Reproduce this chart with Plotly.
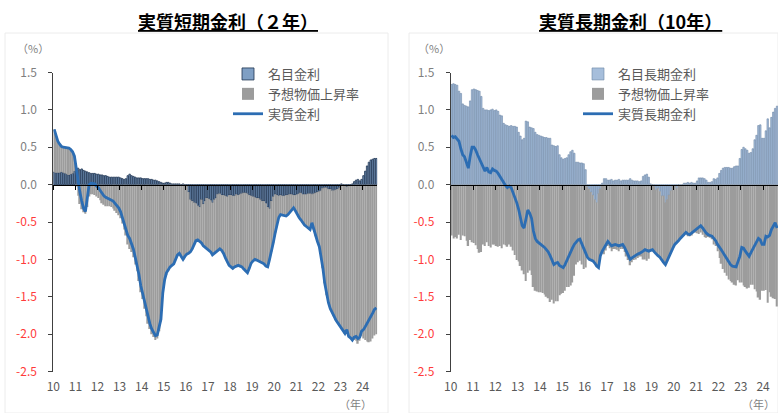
import pandas as pd
import plotly.graph_objects as go

# ---------------- data (monthly, Jan 2010 - Aug 2024, %) ----------------
# 2-year: nominal yield, expected inflation, real yield
short_nominal = [
    0.17, 0.16, 0.16, 0.16, 0.17, 0.16, 0.15, 0.14, 0.13, 0.14, 0.15, 0.18,
    0.22, 0.22, 0.20, 0.21, 0.19, 0.18, 0.17, 0.16, 0.15, 0.15, 0.15, 0.14,
    0.14, 0.13, 0.13, 0.12, 0.12, 0.11, 0.10, 0.10, 0.10, 0.10, 0.10, 0.10,
    0.09, 0.08, 0.07, 0.08, 0.12, 0.14, 0.12, 0.11, 0.10, 0.09, 0.09, 0.09,
    0.08, 0.08, 0.08, 0.08, 0.07, 0.07, 0.06, 0.06, 0.05, 0.04, 0.03, 0.02,
    0.02, 0.03, 0.03, 0.02, 0.01, 0.01, 0.01, 0.01, 0.01, 0.00, 0.01, 0.00,
    -0.02, -0.10, -0.20, -0.22, -0.24, -0.25, -0.28, -0.30, -0.20, -0.26, -0.22, -0.18,
    -0.19, -0.21, -0.24, -0.20, -0.18, -0.13, -0.12, -0.14, -0.14, -0.15, -0.16, -0.14,
    -0.14, -0.15, -0.15, -0.13, -0.14, -0.13, -0.12, -0.11, -0.11, -0.12, -0.14, -0.15,
    -0.16, -0.17, -0.18, -0.18, -0.20, -0.22, -0.22, -0.25, -0.30, -0.32, -0.22, -0.16,
    -0.13, -0.14, -0.15, -0.14, -0.15, -0.15, -0.14, -0.14, -0.13, -0.13, -0.14, -0.14,
    -0.13, -0.12, -0.11, -0.13, -0.13, -0.13, -0.12, -0.12, -0.13, -0.12, -0.11, -0.10,
    -0.09, -0.08, -0.05, -0.04, -0.04, -0.06, -0.06, -0.08, -0.08, -0.07, -0.06, -0.04,
    0.01, 0.00, -0.02, -0.03, -0.02, -0.01, 0.01, 0.04, 0.06, 0.07, 0.05, 0.07,
    0.12, 0.18, 0.25, 0.30, 0.33, 0.34, 0.35, 0.35,
]
short_expected = [
    -0.57, -0.50, -0.42, -0.38, -0.34, -0.34, -0.35, -0.36, -0.36, -0.33, -0.29, -0.20,
    0.02, 0.15, 0.26, 0.33, 0.37, 0.39, 0.30, 0.16, 0.13, 0.13, 0.14, 0.16,
    0.18, 0.21, 0.25, 0.27, 0.29, 0.29, 0.29, 0.30, 0.32, 0.35, 0.38, 0.41,
    0.45, 0.52, 0.60, 0.68, 0.80, 0.86, 0.90, 0.97, 1.07, 1.16, 1.29, 1.44,
    1.53, 1.66, 1.76, 1.86, 1.93, 2.00, 2.04, 2.08, 2.06, 1.96, 1.83, 1.47,
    1.29, 1.21, 1.16, 1.12, 1.09, 1.07, 1.01, 0.95, 0.93, 0.97, 1.01, 0.96,
    0.91, 0.82, 0.70, 0.64, 0.56, 0.50, 0.46, 0.46, 0.58, 0.56, 0.62, 0.68,
    0.68, 0.69, 0.70, 0.72, 0.72, 0.74, 0.74, 0.74, 0.78, 0.83, 0.88, 0.94,
    0.96, 0.97, 0.95, 0.96, 0.94, 0.96, 0.98, 1.02, 1.05, 1.06, 0.98, 0.90,
    0.86, 0.83, 0.83, 0.84, 0.83, 0.82, 0.84, 0.84, 0.80, 0.68, 0.68, 0.62,
    0.52, 0.38, 0.29, 0.26, 0.26, 0.27, 0.28, 0.26, 0.24, 0.21, 0.17, 0.21,
    0.27, 0.32, 0.36, 0.38, 0.41, 0.43, 0.46, 0.48, 0.38, 0.48, 0.58, 0.66,
    0.74, 0.88, 1.07, 1.28, 1.44, 1.52, 1.60, 1.64, 1.68, 1.74, 1.79, 1.84,
    1.93, 1.96, 1.97, 1.91, 2.01, 2.04, 2.09, 2.08, 2.09, 2.13, 2.09, 2.03,
    2.06, 2.08, 2.10, 2.11, 2.10, 2.06, 2.02, 2.00,
]
short_real = [
    0.74, 0.66, 0.58, 0.54, 0.51, 0.50, 0.50, 0.50, 0.49, 0.47, 0.44, 0.38,
    0.20, 0.05, -0.10, -0.22, -0.32, -0.36, -0.15, 0.00, 0.02, 0.02, 0.01, -0.02,
    -0.04, -0.08, -0.12, -0.15, -0.17, -0.18, -0.19, -0.20, -0.22, -0.25, -0.28, -0.31,
    -0.36, -0.44, -0.53, -0.60, -0.68, -0.72, -0.78, -0.86, -0.97, -1.07, -1.20, -1.35,
    -1.45, -1.58, -1.68, -1.78, -1.86, -1.93, -1.98, -2.02, -2.01, -1.92, -1.80, -1.45,
    -1.27, -1.18, -1.13, -1.10, -1.08, -1.06, -1.00, -0.94, -0.92, -0.97, -1.00, -0.96,
    -0.93, -0.92, -0.90, -0.86, -0.80, -0.75, -0.74, -0.76, -0.78, -0.82, -0.84, -0.86,
    -0.87, -0.90, -0.94, -0.92, -0.90, -0.87, -0.86, -0.88, -0.92, -0.98, -1.04, -1.08,
    -1.10, -1.12, -1.10, -1.09, -1.08, -1.09, -1.10, -1.13, -1.16, -1.18, -1.12, -1.05,
    -1.02, -1.00, -1.01, -1.02, -1.03, -1.04, -1.06, -1.09, -1.10, -1.00, -0.90, -0.78,
    -0.65, -0.52, -0.44, -0.40, -0.41, -0.42, -0.42, -0.40, -0.37, -0.34, -0.31, -0.35,
    -0.40, -0.44, -0.47, -0.51, -0.54, -0.56, -0.58, -0.60, -0.51, -0.60, -0.69, -0.76,
    -0.83, -0.96, -1.12, -1.32, -1.48, -1.58, -1.66, -1.72, -1.76, -1.81, -1.85, -1.88,
    -1.92, -1.96, -1.99, -1.94, -2.03, -2.05, -2.08, -2.04, -2.03, -2.06, -2.04, -1.96,
    -1.94, -1.90, -1.85, -1.81, -1.77, -1.72, -1.67, -1.65,
]

# 10-year: nominal yield, expected inflation, real yield
long_nominal = [
    1.34, 1.35, 1.34, 1.33, 1.25, 1.22, 1.08, 1.06, 1.05, 1.04, 1.12, 1.27,
    1.28, 1.27, 1.26, 1.25, 1.18, 1.02, 1.00, 1.00, 0.99, 1.00, 1.01, 0.99,
    1.00, 0.98, 0.93, 0.92, 0.82, 0.80, 0.79, 0.78, 0.79, 0.78, 0.78, 0.77,
    0.70, 0.65, 0.60, 0.62, 0.85, 0.84, 0.77, 0.76, 0.75, 0.70, 0.67, 0.66,
    0.65, 0.64, 0.63, 0.63, 0.62, 0.62, 0.53, 0.52, 0.51, 0.52, 0.40, 0.36,
    0.34, 0.35, 0.36, 0.40, 0.44, 0.46, 0.42, 0.30, 0.30, 0.29, 0.29, 0.28,
    0.20, -0.03, -0.06, -0.10, -0.14, -0.20, -0.24, -0.12, -0.06, 0.02, 0.08, 0.08,
    0.06, 0.06, 0.07, 0.05, 0.06, 0.06, 0.07, 0.05, 0.06, 0.06, 0.06, 0.06,
    0.08, 0.06, 0.05, 0.05, 0.05, 0.04, 0.05, 0.11, 0.13, 0.14, 0.10, 0.01,
    0.00, -0.03, -0.07, -0.05, -0.09, -0.15, -0.15, -0.24, -0.20, -0.14, -0.08, -0.02,
    -0.02, -0.05, 0.00, -0.02, 0.00, 0.02, 0.02, 0.03, 0.02, 0.03, 0.02, 0.02,
    0.05, 0.09, 0.09, 0.09, 0.08, 0.06, 0.03, 0.03, 0.04, 0.08, 0.07, 0.09,
    0.15, 0.19, 0.22, 0.23, 0.23, 0.23, 0.22, 0.22, 0.24, 0.25, 0.25, 0.35,
    0.47, 0.50, 0.48, 0.46, 0.42, 0.43, 0.48, 0.60, 0.66, 0.79, 0.80, 0.62,
    0.62, 0.72, 0.88, 0.76, 0.90, 0.97, 1.02, 1.05,
]
long_expected = [
    0.68, 0.72, 0.70, 0.72, 0.67, 0.74, 0.68, 0.69, 0.75, 0.82, 0.74, 0.77,
    0.78, 0.81, 0.86, 0.91, 0.90, 0.80, 0.82, 0.77, 0.82, 0.84, 0.80, 0.80,
    0.82, 0.83, 0.82, 0.85, 0.80, 0.81, 0.83, 0.80, 0.83, 0.88, 0.94, 1.01,
    1.03, 1.09, 1.15, 1.20, 1.29, 1.18, 1.15, 1.21, 1.37, 1.42, 1.43, 1.44,
    1.44, 1.45, 1.47, 1.50, 1.52, 1.57, 1.54, 1.59, 1.56, 1.56, 1.48, 1.46,
    1.45, 1.42, 1.37, 1.37, 1.35, 1.31, 1.22, 1.07, 1.04, 1.02, 1.07, 1.13,
    1.11, 0.94, 0.94, 0.91, 0.88, 0.85, 0.85, 0.99, 0.89, 0.91, 0.93, 0.88,
    0.82, 0.85, 0.89, 0.86, 0.86, 0.87, 0.89, 0.86, 0.86, 0.90, 0.96, 1.01,
    1.08, 1.04, 1.01, 1.00, 0.98, 0.96, 0.96, 1.00, 1.00, 1.02, 0.99, 0.89,
    0.87, 0.87, 0.86, 0.90, 0.88, 0.86, 0.89, 0.83, 0.81, 0.82, 0.82, 0.83,
    0.78, 0.73, 0.75, 0.70, 0.69, 0.68, 0.66, 0.69, 0.69, 0.68, 0.65, 0.64,
    0.65, 0.66, 0.64, 0.67, 0.70, 0.71, 0.70, 0.71, 0.73, 0.80, 0.82, 0.89,
    0.98, 1.06, 1.13, 1.18, 1.22, 1.27, 1.29, 1.31, 1.34, 1.35, 1.28, 1.31,
    1.31, 1.35, 1.37, 1.39, 1.38, 1.34, 1.34, 1.40, 1.43, 1.51, 1.54, 1.42,
    1.42, 1.41, 1.58, 1.44, 1.50, 1.52, 1.53, 1.63,
]
long_real = [
    0.66, 0.63, 0.64, 0.61, 0.58, 0.48, 0.40, 0.37, 0.30, 0.22, 0.38, 0.50,
    0.50, 0.46, 0.40, 0.34, 0.28, 0.22, 0.18, 0.23, 0.17, 0.16, 0.21, 0.19,
    0.18, 0.15, 0.11, 0.07, 0.02, -0.01, -0.04, -0.02, -0.04, -0.10, -0.16, -0.24,
    -0.33, -0.44, -0.55, -0.58, -0.44, -0.34, -0.38, -0.45, -0.62, -0.72, -0.76, -0.78,
    -0.79, -0.81, -0.84, -0.87, -0.90, -0.95, -1.01, -1.07, -1.05, -1.04, -1.08, -1.10,
    -1.11, -1.07, -1.01, -0.97, -0.91, -0.85, -0.80, -0.77, -0.74, -0.73, -0.78, -0.85,
    -0.91, -0.97, -1.00, -1.01, -1.02, -1.05, -1.09, -1.11, -0.95, -0.89, -0.85, -0.80,
    -0.76, -0.79, -0.82, -0.81, -0.80, -0.81, -0.82, -0.81, -0.80, -0.84, -0.90, -0.95,
    -1.00, -0.98, -0.96, -0.95, -0.93, -0.92, -0.91, -0.89, -0.87, -0.88, -0.89, -0.88,
    -0.87, -0.90, -0.93, -0.95, -0.97, -1.01, -1.04, -1.07, -1.01, -0.96, -0.90, -0.85,
    -0.80, -0.78, -0.75, -0.72, -0.69, -0.66, -0.64, -0.66, -0.67, -0.65, -0.63, -0.62,
    -0.60, -0.57, -0.55, -0.58, -0.62, -0.65, -0.67, -0.68, -0.69, -0.72, -0.75, -0.80,
    -0.83, -0.87, -0.91, -0.95, -0.99, -1.04, -1.07, -1.09, -1.10, -1.10, -1.03, -0.96,
    -0.84, -0.85, -0.89, -0.93, -0.96, -0.91, -0.86, -0.80, -0.77, -0.72, -0.74, -0.80,
    -0.80, -0.69, -0.70, -0.68, -0.60, -0.55, -0.51, -0.58,
]

months = pd.date_range("2010-01-01", periods=len(short_nominal), freq="MS")
y_ticks = [-2.5, -2.0, -1.5, -1.0, -0.5, 0.0, 0.5, 1.0, 1.5]

# ---------------- styling ----------------
FONT = "Noto Sans CJK JP"
LABEL_GREY = "#7f7f7f"
TEXT_GREY = "#595959"
NEG_RED = "#ff3b3b"
BAR_GREY = "#9c9c9c"
LINE_BLUE = "#2c6db3"

W, H = 778, 413
Y_RANGE = [-2.5, 1.5]
Y_DOMAIN = [(H - 371.5) / H, (H - 72.5) / H]
X_RANGE = ["2010-01-01", months[-1] + pd.DateOffset(months=1)]
LEFT_DOMAIN = [53.3 / W, 377.3 / W]
RIGHT_DOMAIN = [450.7 / W, 1.0]
# paper height of the y = 0 level, where the year ticks sit
zero_pos = Y_DOMAIN[0] + (0 - Y_RANGE[0]) / (Y_RANGE[1] - Y_RANGE[0]) * (Y_DOMAIN[1] - Y_DOMAIN[0])

tick_text = [
    f'<span style="color:{NEG_RED}">{v:.1f}</span>' if v < 0 else f"{v:.1f}"
    for v in y_ticks
]

fig = go.Figure()


def add_panel(nominal, expected, real, names, xa_bars, xa_line, ya, legend, nominal_style):
    fig.add_trace(go.Bar(
        x=months, y=nominal, name=names[0], xaxis=xa_bars, yaxis=ya,
        xperiod="M1", xperiodalignment="middle", legend=legend,
        marker=dict(color=nominal_style[0],
                    line=dict(color=nominal_style[1], width=nominal_style[2])),
        hoverinfo="skip",
    ))
    fig.add_trace(go.Bar(
        x=months, y=[-v for v in expected], name=names[1], xaxis=xa_bars, yaxis=ya,
        xperiod="M1", xperiodalignment="middle", legend=legend,
        marker=dict(color=BAR_GREY, line=dict(width=0)),
        hoverinfo="skip",
    ))
    fig.add_trace(go.Scatter(
        x=months, y=real, name=names[2], xaxis=xa_line, yaxis=ya,
        xperiod="M1", xperiodalignment="middle", legend=legend,
        mode="lines", line=dict(color=LINE_BLUE, width=2.8),
        hoverinfo="skip",
    ))


add_panel(short_nominal, short_expected, short_real,
          ["名目金利", "予想物価上昇率", "実質金利"],
          "x", "x3", "y", "legend", ("#7f9fc4", "#1e3350", 0.8))
add_panel(long_nominal, long_expected, long_real,
          ["名目長期金利", "予想物価上昇率", "実質長期金利"],
          "x2", "x4", "y2", "legend2", ("#a6bedb", "#6d87a6", 0.6))


def label_axis(domain, anchor):
    return dict(
        domain=domain, anchor=anchor, range=X_RANGE, type="date",
        tick0="2010-01-01", dtick="M12", tickformat="%y",
        showline=False, showgrid=False, zeroline=False, ticks="",
        tickfont=dict(family=FONT, size=12, color=TEXT_GREY),
        ticklabelstandoff=6, automargin=False,
    )


def zero_axis(base):
    return dict(
        overlaying=base, anchor="free", position=zero_pos, range=X_RANGE, type="date",
        tick0="2010-01-01", dtick="M12", showticklabels=False,
        showline=True, linecolor="#000000", linewidth=1,
        ticks="outside", ticklen=4, tickcolor="#000000", tickwidth=1,
        showgrid=False, zeroline=False, automargin=False,
    )


def value_axis(anchor):
    return dict(
        domain=Y_DOMAIN, anchor=anchor, range=Y_RANGE,
        tickvals=y_ticks, ticktext=tick_text,
        tickfont=dict(family=FONT, size=12, color=LABEL_GREY),
        showline=True, linecolor="#404040", linewidth=1,
        ticks="outside", ticklen=4, tickcolor="#404040",
        ticklabelstandoff=9, showgrid=False, zeroline=False, automargin=False,
    )


legend_style = dict(
    xanchor="left", yanchor="top", traceorder="normal", tracegroupgap=0,
    bgcolor="rgba(0,0,0,0)", itemwidth=30,
    font=dict(family=FONT, size=13, color=TEXT_GREY),
)

fig.update_layout(
    width=W, height=H,
    margin=dict(l=0, r=0, t=0, b=0, autoexpand=False),
    paper_bgcolor="white", plot_bgcolor="white",
    barmode="relative", bargap=0.18,
    font=dict(family=FONT),
    xaxis=label_axis(LEFT_DOMAIN, "y"),
    xaxis2=label_axis(RIGHT_DOMAIN, "y2"),
    xaxis3=zero_axis("x"),
    xaxis4=zero_axis("x2"),
    yaxis=value_axis("x"),
    yaxis2=value_axis("x2"),
    legend=dict(x=228 / W, y=(H - 59) / H, **legend_style),
    legend2=dict(x=578 / W, y=(H - 59) / H, **legend_style),
    showlegend=True,
)

# chart frames
for x0, x1 in [(5 / W, 388 / W), (409 / W, 1.0)]:
    fig.add_shape(type="rect", xref="paper", yref="paper", x0=x0, x1=x1, y0=0.0, y1=(H - 33) / H,
                  line=dict(color="#ececec", width=1), layer="below")

titles = [("実質短期金利（２年）", 228), ("実質長期金利（10年）", 630)]
for text, xc in titles:
    fig.add_annotation(text=f"<b><u>{text}</u></b>", xref="paper", yref="paper",
                       x=xc / W, y=(H - 21) / H, xanchor="center", yanchor="middle",
                       showarrow=False, font=dict(family=FONT, size=18, color="#000000"))

for xc in (33, 434):
    fig.add_annotation(text="（%）", xref="paper", yref="paper", x=xc / W, y=(H - 48) / H,
                       xanchor="center", yanchor="middle",
                       showarrow=False, font=dict(family=FONT, size=11, color=LABEL_GREY))
for xr in (374, 777):
    fig.add_annotation(text="（年）", xref="paper", yref="paper", x=xr / W, y=(H - 403.5) / H,
                       xanchor="right", yanchor="middle",
                       showarrow=False, font=dict(family=FONT, size=11, color=LABEL_GREY))

fig.write_html("out.html")
